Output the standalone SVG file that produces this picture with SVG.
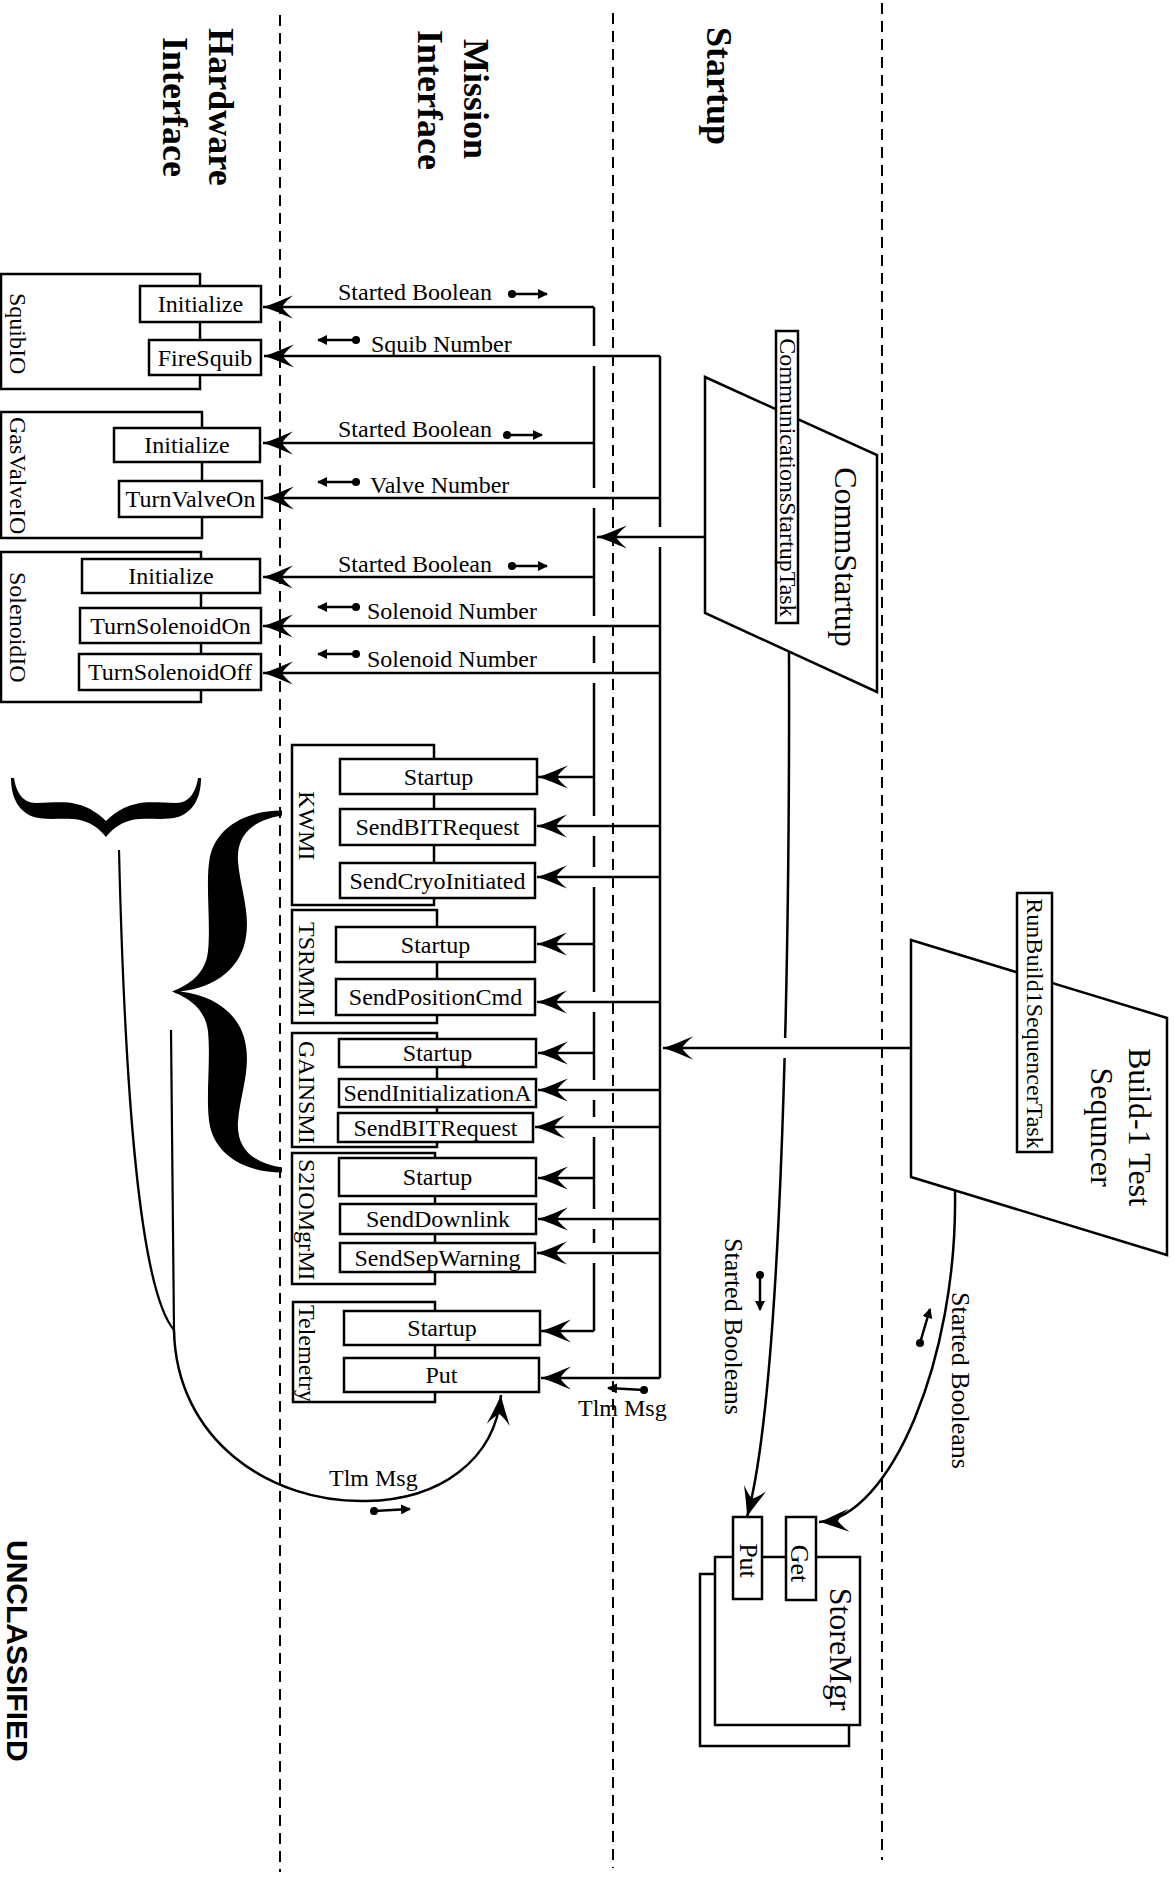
<svg xmlns="http://www.w3.org/2000/svg" width="1175" height="1879" viewBox="0 0 1175 1879">
<style>
.lane{stroke:#000;stroke-width:2;stroke-dasharray:11 7;fill:none}
.box{fill:#fff;stroke:#000;stroke-width:2.5}
.ln{stroke:#000;stroke-width:2.2;fill:none}
.bus{stroke:#000;stroke-width:2.5;fill:none}
.arr{stroke:#000;stroke-width:2.5;fill:none;marker-end:url(#ah)}
.df{stroke:#000;stroke-width:2.5;fill:none;marker-start:url(#dot);marker-end:url(#sa)}
.t{font-family:"Liberation Serif","Times New Roman",serif;font-size:24px;fill:#000}
.c{text-anchor:middle}
.big{font-size:32px}
.mid{font-size:26px}
.h{font-family:"Liberation Serif","Times New Roman",serif;font-size:36px;font-weight:bold;text-anchor:middle;fill:#000}
.u{font-family:"Liberation Sans",Arial,sans-serif;font-size:30px;font-weight:bold;fill:#000}
</style>
<defs>
<marker id="ah" viewBox="0 0 31 24" refX="30" refY="12" markerWidth="31" markerHeight="24" markerUnits="userSpaceOnUse" orient="auto"><path d="M30,12 C20,9 9,4 0,0.5 Q8,7 11,12 Q8,17 0,23.5 C9,20 20,15 30,12 Z" fill="#000"/></marker>
<marker id="sa" viewBox="0 0 10 10" refX="9" refY="5" markerWidth="10" markerHeight="10" markerUnits="userSpaceOnUse" orient="auto"><path d="M0,0 L10,5 L0,10 Z" fill="#000"/></marker>
<marker id="dot" viewBox="0 0 10 10" refX="5" refY="5" markerWidth="9" markerHeight="9" markerUnits="userSpaceOnUse"><circle cx="5" cy="5" r="4.5" fill="#000"/></marker>
<path id="braceV" d="M0,0 C12,-5 33,-14 36,-40 C39,-70 33,-110 38,-135 C45,-165 75,-181 110,-181 L110,-176 C85,-172 64,-160 66,-130 C68,-105 78,-80 74,-55 C70,-25 45,-4 8,0 Z M0,0 C12,5 33,14 36,40 C39,70 33,110 38,135 C45,165 75,181 110,181 L110,176 C85,172 64,160 66,130 C68,105 78,80 74,55 C70,25 45,4 8,0 Z"/>
<path id="braceH" d="M0,0 C5,-4 14,-12 17,-26 C20,-42 16,-58 20,-72 C25,-87 39,-95 59,-95 L59,-92 C46,-90 34,-84 34,-70 C34,-55 36,-42 33,-30 C30,-16 22,-6 16,0 Z M0,0 C5,4 14,12 17,26 C20,42 16,58 20,72 C25,87 39,95 59,95 L59,92 C46,90 34,84 34,70 C34,55 36,42 33,30 C30,16 22,6 16,0 Z"/>
</defs>
<rect width="1175" height="1879" fill="#fff"/>

<g id="lanes">
<line class="lane" x1="280" y1="15" x2="280" y2="1872"/>
<line class="lane" x1="613" y1="13" x2="613" y2="1868"/>
<line class="lane" x1="882" y1="3" x2="882" y2="1860"/>
<text class="h" transform="translate(209,107) rotate(90)">Hardware</text>
<text class="h" transform="translate(163,107) rotate(90)">Interface</text>
<text class="h" transform="translate(464,99) rotate(90)">Mission</text>
<text class="h" transform="translate(418,100) rotate(90)">Interface</text>
<text class="h" transform="translate(707,86) rotate(90)">Startup</text>
<text class="u" transform="translate(7,1540) rotate(90)">UNCLASSIFIED</text>
</g>

<g id="SquibIO">
<rect class="box" x="1" y="274" width="199" height="115"/>
<text class="t" transform="translate(10,293) rotate(90)">SquibIO</text>
<rect class="box" x="140" y="286" width="121" height="36"/>
<text class="t c" x="200.5" y="312">Initialize</text>
<rect class="box" x="149" y="340" width="112" height="35"/>
<text class="t c" x="205" y="365.5">FireSquib</text>
</g>

<g id="GasValveIO">
<rect class="box" x="1" y="412" width="201" height="126"/>
<text class="t" transform="translate(10,417) rotate(90)">GasValveIO</text>
<rect class="box" x="114" y="428" width="146" height="34"/>
<text class="t c" x="187" y="453">Initialize</text>
<rect class="box" x="119" y="481" width="143" height="36"/>
<text class="t c" x="190.5" y="507">TurnValveOn</text>
</g>

<g id="SolenoidIO">
<rect class="box" x="1" y="552" width="200" height="150"/>
<text class="t" transform="translate(10,572) rotate(90)">SolenoidIO</text>
<rect class="box" x="82" y="559" width="178" height="34"/>
<text class="t c" x="171" y="584">Initialize</text>
<rect class="box" x="80" y="608" width="181" height="35"/>
<text class="t c" x="170.5" y="633.5">TurnSolenoidOn</text>
<rect class="box" x="79" y="654" width="182" height="36"/>
<text class="t c" x="170" y="680">TurnSolenoidOff</text>
</g>

<g id="KWMI">
<rect class="box" x="292" y="745" width="142" height="160"/>
<text class="t" transform="translate(299,791) rotate(90)">KWMI</text>
<rect class="box" x="340" y="759" width="197" height="35"/>
<text class="t c" x="438.5" y="784.5">Startup</text>
<rect class="box" x="340" y="809" width="195" height="36"/>
<text class="t c" x="437.5" y="835">SendBITRequest</text>
<rect class="box" x="340" y="863" width="195" height="35"/>
<text class="t c" x="437.5" y="888.5">SendCryoInitiated</text>
</g>

<g id="TSRMMI">
<rect class="box" x="292" y="910" width="145" height="113"/>
<text class="t" transform="translate(299,922) rotate(90)">TSRMMI</text>
<rect class="box" x="336" y="927" width="199" height="35"/>
<text class="t c" x="435.5" y="952.5">Startup</text>
<rect class="box" x="336" y="979" width="199" height="36"/>
<text class="t c" x="435.5" y="1005">SendPositionCmd</text>
</g>

<g id="GAINSMI">
<rect class="box" x="292" y="1033" width="145" height="114"/>
<text class="t" transform="translate(299,1041) rotate(90)">GAINSMI</text>
<rect class="box" x="339" y="1039" width="197" height="28"/>
<text class="t c" x="437.5" y="1061">Startup</text>
<rect class="box" x="339" y="1079" width="197" height="28"/>
<text class="t c" x="437.5" y="1101">SendInitializationA</text>
<rect class="box" x="338" y="1113" width="195" height="29"/>
<text class="t c" x="435.5" y="1135.5">SendBITRequest</text>
</g>

<g id="S2IOMgrMI">
<rect class="box" x="292" y="1153" width="143" height="131"/>
<text class="t" transform="translate(299,1159) rotate(90)">S2IOMgrMI</text>
<rect class="box" x="339" y="1158" width="197" height="38"/>
<text class="t c" x="437.5" y="1185">Startup</text>
<rect class="box" x="340" y="1204" width="196" height="30"/>
<text class="t c" x="438" y="1227">SendDownlink</text>
<rect class="box" x="340" y="1243" width="195" height="29"/>
<text class="t c" x="437.5" y="1265.5">SendSepWarning</text>
</g>

<g id="Telemetry">
<rect class="box" x="293" y="1302" width="142" height="100"/>
<text class="t" transform="translate(299,1305) rotate(90)">Telemetry</text>
<rect class="box" x="344" y="1311" width="196" height="34"/>
<text class="t c" x="442" y="1336">Startup</text>
<rect class="box" x="344" y="1358" width="195" height="34"/>
<text class="t c" x="441.5" y="1383">Put</text>
</g>

<g id="CommStartup">
<polygon class="box" points="705,377 877,455 877,692 705,613"/>
<text class="t big c" transform="translate(835,557) rotate(90)">CommStartup</text>
<rect class="box" x="776" y="331" width="22" height="292"/>
<text class="t c" transform="translate(780,477.5) rotate(90)">CommunicationsStartupTask</text>
</g>

<g id="Build1TestSequencer">
<polygon class="box" points="911,940 1167,1018 1167,1255 911,1177"/>
<text class="t big c" transform="translate(1129,1127) rotate(90)">Build-1 Test</text>
<text class="t big c" transform="translate(1091,1127) rotate(90)">Sequncer</text>
<rect class="box" x="1017" y="893" width="35" height="259"/>
<text class="t c" transform="translate(1027,1023.5) rotate(90)">RunBuild1SequencerTask</text>
</g>

<g id="StoreMgr">
<rect class="box" x="700" y="1574" width="149" height="172"/>
<rect class="box" x="715" y="1557" width="145" height="168"/>
<text class="t big c" transform="translate(830,1649) rotate(90)">StoreMgr</text>
<rect class="box" x="733" y="1517" width="29" height="82"/>
<text class="t mid c" transform="translate(740,1560.5) rotate(90)">Put</text>
<rect class="box" x="786" y="1517" width="30" height="83"/>
<text class="t mid c" transform="translate(791,1563.5) rotate(90)">Get</text>
</g>

<g id="braces">
<use href="#braceV" transform="translate(172,991.5)" fill="#000"/>
<use href="#braceH" transform="translate(106,837) rotate(-90)" fill="#000"/>
</g>

<g id="connectors">
<path class="bus" d="M594,307 V346 M594,366 V488 M594,508 V616 M594,636 V663 M594,683 V816 M594,836 V867 M594,887 V992 M594,1012 V1080 M594,1100 V1117 M594,1137 V1209 M594,1229 V1243 M594,1263 V1331"/>
<path class="bus" d="M660,356 V527 M660,547 V1378"/>

<path class="arr" d="M594,307 H263"/>
<path class="arr" d="M594,443 H263"/>
<path class="arr" d="M594,577 H263"/>
<path class="arr" d="M594,777 H538"/>
<path class="arr" d="M594,944 H537"/>
<path class="arr" d="M594,1053 H538"/>
<path class="arr" d="M594,1178 H538"/>
<path class="arr" d="M594,1331 H541"/>
<path class="arr" d="M660,356 H264"/>
<path class="arr" d="M660,498 H264"/>
<path class="arr" d="M660,626 H263"/>
<path class="arr" d="M660,673 H263"/>
<path class="arr" d="M660,826 H537"/>
<path class="arr" d="M660,877 H537"/>
<path class="arr" d="M660,1002 H537"/>
<path class="arr" d="M660,1090 H538"/>
<path class="arr" d="M660,1127 H535"/>
<path class="arr" d="M660,1219 H538"/>
<path class="arr" d="M660,1253 H537"/>
<path class="arr" d="M660,1378 H541"/>

<path class="arr" d="M705,537 H597"/>
<path class="arr" d="M789,652 C790,1000 780,1400 747,1517"/>
<rect x="779" y="1038" width="12" height="20" fill="#fff"/>
<path class="arr" d="M911,1048 H663"/>
<path class="arr" d="M955,1190 C958,1360 890,1518 819,1522"/>

<path class="ln" d="M119,850 C125,1100 140,1290 174,1330"/>
<path class="ln" d="M171,1030 L174,1330"/>
<path class="arr" d="M174,1330 C176,1440 270,1503 366,1501 C440,1500 495,1460 501,1395"/>

<text class="t" x="338" y="300">Started Boolean</text>
<text class="t" x="371" y="352">Squib Number</text>
<text class="t" x="338" y="437">Started Boolean</text>
<text class="t" x="370" y="493">Valve Number</text>
<text class="t" x="338" y="572">Started Boolean</text>
<text class="t" x="367" y="619">Solenoid Number</text>
<text class="t" x="367" y="667">Solenoid Number</text>
<text class="t" x="578" y="1416">Tlm Msg</text>
<text class="t" x="329" y="1486">Tlm Msg</text>
<text class="t mid" transform="translate(725,1238) rotate(90)">Started Booleans</text>
<text class="t mid" transform="translate(952,1292) rotate(90)">Started Booleans</text>

<path class="df" d="M512,294 H547"/>
<path class="df" d="M356,340 H318"/>
<path class="df" d="M507,435 H542"/>
<path class="df" d="M356,482 H318"/>
<path class="df" d="M512,566 H547"/>
<path class="df" d="M356,607 H318"/>
<path class="df" d="M356,654 H318"/>
<path class="df" d="M644,1390 L608,1388"/>
<path class="df" d="M374,1511 L410,1509"/>
<path class="df" d="M760,1275 V1310"/>
<path class="df" d="M920,1343 L930,1309"/>
</g>
</svg>
